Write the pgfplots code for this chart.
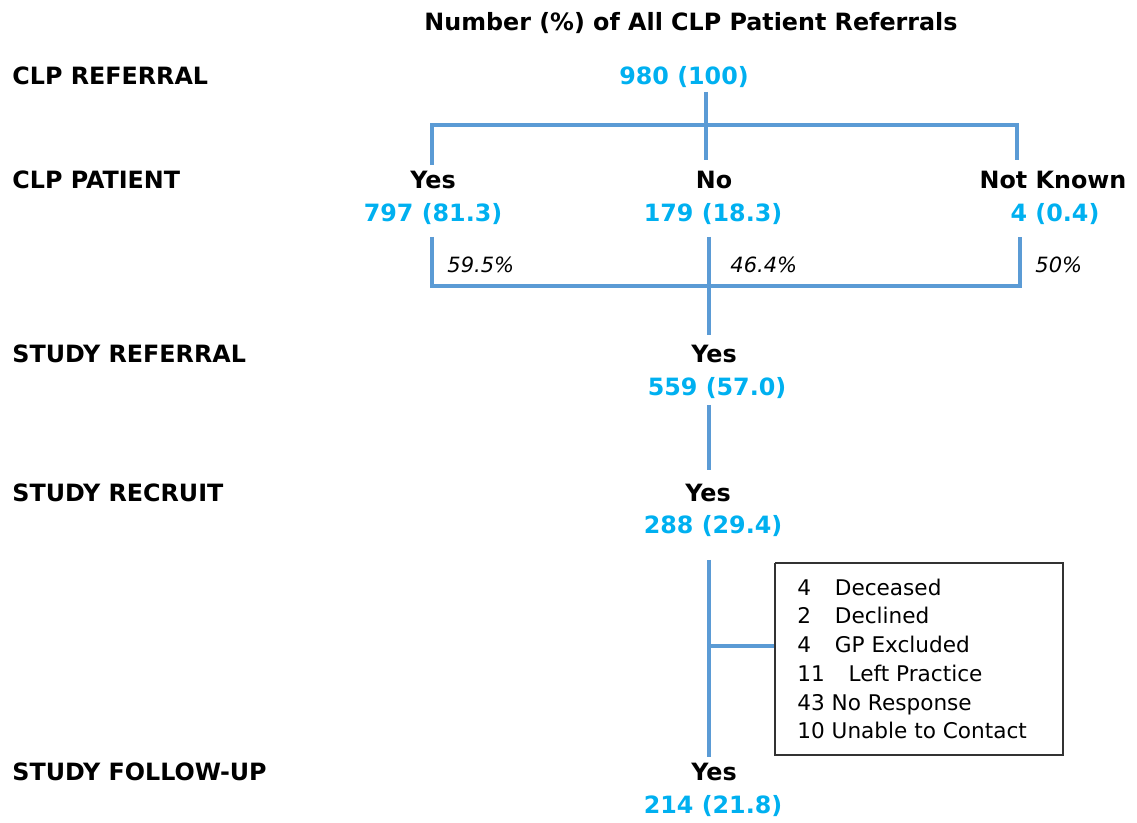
\documentclass[border=0pt]{standalone}
\usepackage{pgfplots}
\pgfplotsset{compat=1.18}
\usepackage{fontspec}
\setmainfont{DejaVu Sans}
\definecolor{numblue}{HTML}{00B0F0}
\definecolor{linblue}{HTML}{5B9BD5}
\begin{document}
\begin{tikzpicture}
\useasboundingbox (0,0) rectangle (568.5pt,411.5pt);
\begin{axis}[
  at={(0,0)}, anchor=south west,
  scale only axis, width=568.5pt, height=411.5pt,
  xmin=0, xmax=1137, ymin=0, ymax=823, y dir=reverse,
  axis lines=none, ticks=none, clip=false,
  every axis plot/.append style={no markers},
]
% connector lines
\addplot[linblue, line width=1.8pt] coordinates {(706,92) (706,160)};
\addplot[linblue, line width=1.8pt] coordinates {(432,165) (432,125) (1017,125) (1017,160)};
\addplot[linblue, line width=1.8pt] coordinates {(432,237) (432,286) (1020,286) (1020,237)};
\addplot[linblue, line width=1.8pt] coordinates {(709,237) (709,335)};
\addplot[linblue, line width=1.8pt] coordinates {(709,405) (709,470)};
\addplot[linblue, line width=1.8pt] coordinates {(709,560) (709,757)};
\addplot[linblue, line width=1.8pt] coordinates {(709,646) (775,646)};
% exclusion box
\addplot[black!80, line width=0.8pt] coordinates {(775,563) (1063,563) (1063,755) (775,755) (775,563)};
% text
\tikzset{lab/.style={anchor=base west, inner sep=0pt, font=\bfseries\fontsize{11.9}{14}\selectfont},
         ctr/.style={anchor=base, inner sep=0pt, font=\bfseries\fontsize{11.9}{14}\selectfont},
         num/.style={ctr, text=numblue},
         pct/.style={anchor=base west, inner sep=0pt, font=\itshape\fontsize{10.5}{12}\selectfont},
         box/.style={anchor=base west, inner sep=0pt, font=\fontsize{10.8}{12}\selectfont}}
\node[ctr] at (axis cs:691,31) {Number (\%) of All CLP Patient Referrals};
\node[lab] at (axis cs:12,85) {CLP REFERRAL};
\node[num] at (axis cs:684,85) {980 (100)};
\node[lab] at (axis cs:12,189) {CLP PATIENT};
\node[ctr] at (axis cs:433,189) {Yes};
\node[ctr] at (axis cs:714,189) {No};
\node[ctr] at (axis cs:1053,189) {Not Known};
\node[num] at (axis cs:433,222) {797 (81.3)};
\node[num] at (axis cs:713,222) {179 (18.3)};
\node[num] at (axis cs:1055,222) {4 (0.4)};
\node[pct] at (axis cs:447,273) {59.5\%};
\node[pct] at (axis cs:730,273) {46.4\%};
\node[pct] at (axis cs:1035,273) {50\%};
\node[lab] at (axis cs:12,363) {STUDY REFERRAL};
\node[ctr] at (axis cs:714,363) {Yes};
\node[num] at (axis cs:717,396) {559 (57.0)};
\node[lab] at (axis cs:12,502) {STUDY RECRUIT};
\node[ctr] at (axis cs:708,502) {Yes};
\node[num] at (axis cs:713,534) {288 (29.4)};
\node[lab] at (axis cs:12,781) {STUDY FOLLOW-UP};
\node[ctr] at (axis cs:714,781) {Yes};
\node[num] at (axis cs:713,814) {214 (21.8)};
\node[box] at (axis cs:797,596) {4\hspace{1.1em}Deceased};
\node[box] at (axis cs:797,624) {2\hspace{1.1em}Declined};
\node[box] at (axis cs:797,653) {4\hspace{1.1em}GP Excluded};
\node[box] at (axis cs:797,682) {11\hspace{1.1em}Left Practice};
\node[box] at (axis cs:797,711) {43 No Response};
\node[box] at (axis cs:797,739) {10 Unable to Contact};
\end{axis}
\end{tikzpicture}
\end{document}
